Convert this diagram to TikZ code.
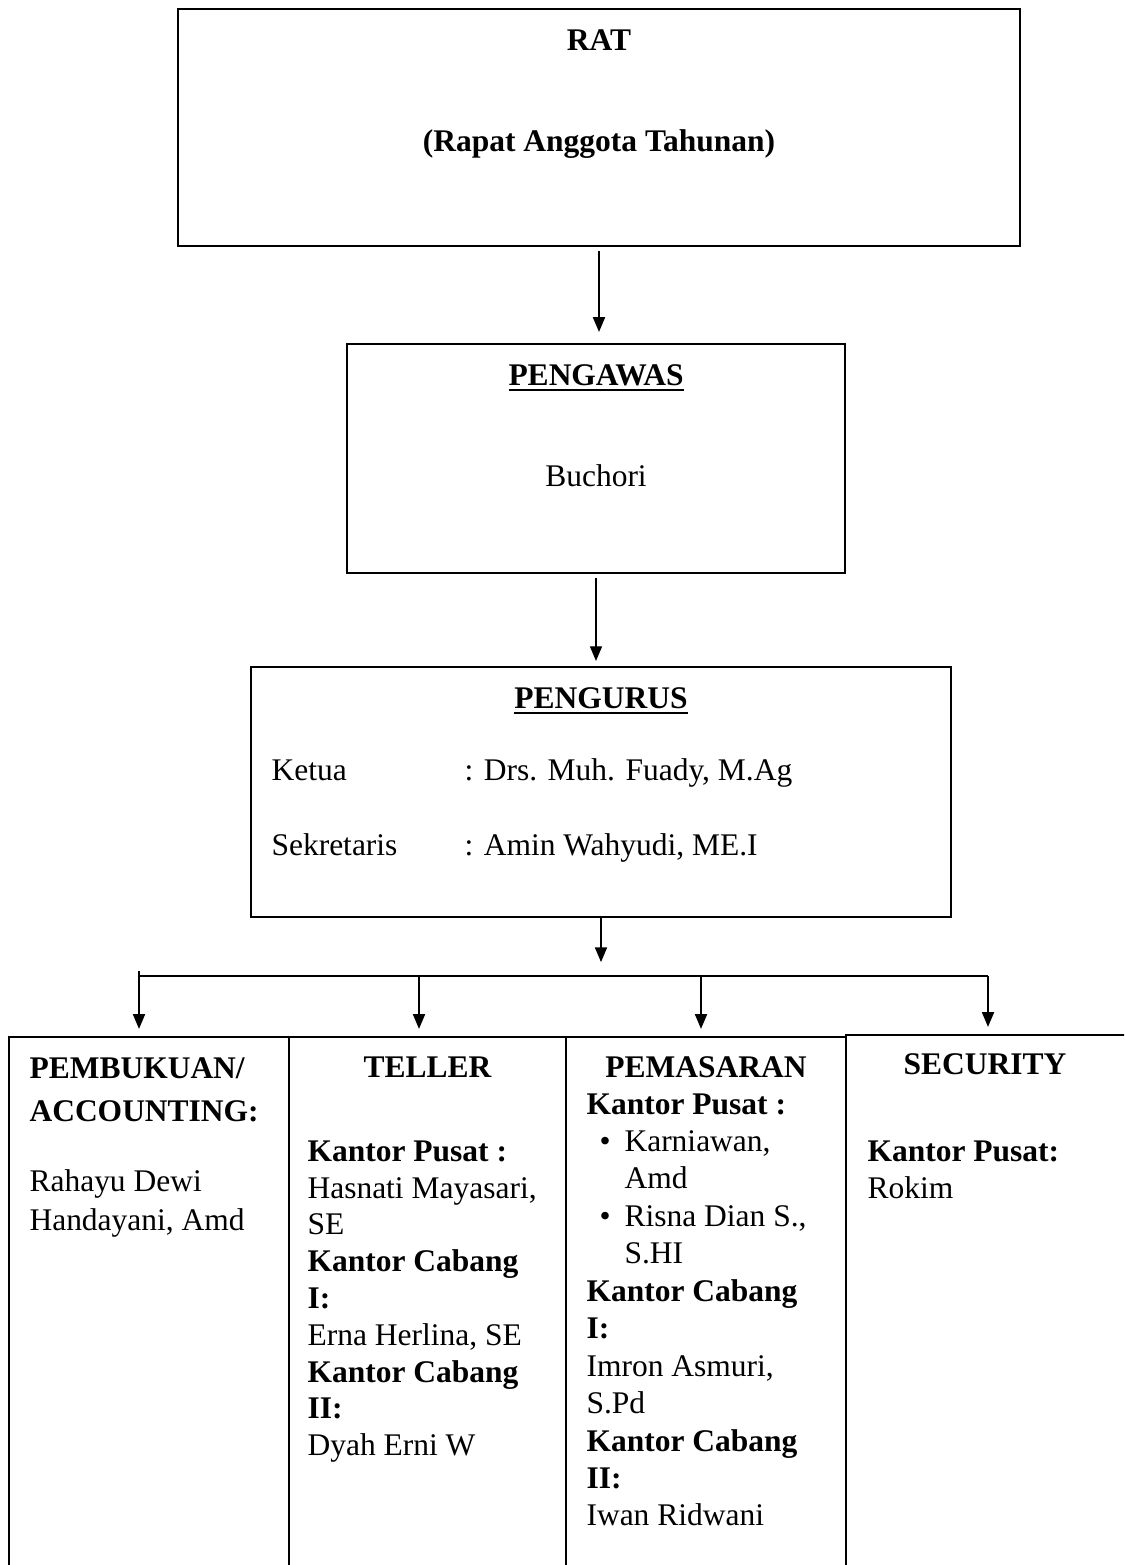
\documentclass[tikz,border=0pt]{standalone}
\usepackage{fontspec}
\setmainfont{Liberation Serif}
\usetikzlibrary{arrows.meta,fit}
\newcommand\myul[1]{\setbox0=\hbox{#1}\rlap{\rule[-2.4pt]{\wd0}{0.8pt}}\box0}
\begin{document}
\begin{tikzpicture}[x=0.381pt,y=-0.381pt,
  box/.style={draw,line width=0.8pt,inner sep=0pt,rectangle},
  arr/.style={line width=0.55pt,-{Triangle[length=5.6pt,width=4.6pt]}},
  busline/.style={line width=0.55pt},
  txt/.style={inner sep=0pt,anchor=base west,font=\fontsize{12}{13.9}\selectfont},
  ctxt/.style={txt,anchor=base},
  btxt/.style={txt,font=\fontsize{12}{13.9}\selectfont\bfseries},
  bctxt/.style={ctxt,font=\fontsize{12}{13.9}\selectfont\bfseries}]
\useasboundingbox (0,0) rectangle (1124,1565);
\clip (0,0) rectangle (1124,1565);

% top boxes
\node[box,fit={(178,9)(1020,246)}] (rat) {};
\node[bctxt] (ratT) at (599,51) {RAT};
\node[bctxt] (ratS) at (599,152) {(Rapat Anggota Tahunan)};

\node[box,fit={(347,344)(845,573)}] (pengawas) {};
\node[bctxt] (pwT) at (596,385) {\myul{PENGAWAS}};
\node[ctxt] (pwN) at (596,486) {Buchori};

\node[box,fit={(251,667)(951,917)}] (pengurus) {};
\node[bctxt] (pgT) at (601,708) {\myul{PENGURUS}};
\node[txt] (k1) at (271,780) {Ketua};
\node[txt] (k2) at (464,780) {: Drs. Muh. Fuady, M.Ag};
\node[txt] (s1) at (271,855) {Sekretaris};
\node[txt] (s2) at (464,855) {: Amin Wahyudi, ME.I};

% connectors
\draw[arr,shorten <=1.5pt,shorten >=4.2pt] (rat.south) -- (rat.south |- pengawas.north);
\draw[arr,shorten <=1.5pt,shorten >=1.9pt] (pengawas.south) -- (pengawas.south |- pengurus.north);

\coordinate (busT) at (139,971);
\coordinate (busL) at (139,976);
\coordinate (busR) at (988,976);
\coordinate (d2) at (419,976);
\coordinate (d3) at (701,976);
\draw[arr,shorten >=5.3pt] (pengurus.south) -- (pengurus.south |- busL);
\draw[busline] (busT) -- (busL) -- (busR);

% bottom boxes
\node[box,fit={(9,1037)(289,1600)}] (c1) {};
\node[box,fit={(289,1037)(566,1600)}] (c2) {};
\node[box,fit={(566,1037)(846,1600)}] (c3) {};
\node[box,fit={(846,1035)(1140,1600)}] (c4) {};

\draw[arr,shorten >=2.7pt] (busL) -- (busL |- c1.north);
\draw[arr,shorten >=2.7pt] (d2) -- (d2 |- c2.north);
\draw[arr,shorten >=2.7pt] (d3) -- (d3 |- c3.north);
\draw[arr,shorten >=2.7pt] (busR) -- (busR |- c4.north);

% column 1
\node[btxt] (a1) at (29,1078) {PEMBUKUAN/};
\node[btxt] (a2) at (29,1121) {ACCOUNTING:};
\node[txt] (a3) at (29,1191) {Rahayu Dewi};
\node[txt] (a4) at (29,1230) {Handayani, Amd};

% column 2
\node[bctxt] (b0) at (427.5,1077) {TELLER};
\node[btxt] (b1) at (307,1161) {Kantor Pusat :};
\node[txt] (b2) at (307,1198) {Hasnati Mayasari,};
\node[txt] (b3) at (307,1234) {SE};
\node[btxt] (b4) at (307,1271) {Kantor Cabang};
\node[btxt] (b5) at (307,1308) {I:};
\node[txt] (b6) at (307,1345) {Erna Herlina, SE};
\node[btxt] (b7) at (307,1382) {Kantor Cabang};
\node[btxt] (b8) at (307,1418) {II:};
\node[txt] (b9) at (307,1455) {Dyah Erni W};

% column 3
\node[bctxt] (e0) at (706,1077) {PEMASARAN};
\node[btxt] (e1) at (586,1114) {Kantor Pusat :};
\node[txt] (e2b) at (599,1151) {•};
\node[txt] (e2) at (624,1151) {Karniawan,};
\node[txt] (e3) at (624,1188) {Amd};
\node[txt] (e4b) at (599,1226) {•};
\node[txt] (e4) at (624,1226) {Risna Dian S.,};
\node[txt] (e5) at (624,1263) {S.HI};
\node[btxt] (e6) at (586,1301) {Kantor Cabang};
\node[btxt] (e7) at (586,1338) {I:};
\node[txt] (e8) at (586,1376) {Imron Asmuri,};
\node[txt] (e9) at (586,1413) {S.Pd};
\node[btxt] (e10) at (586,1451) {Kantor Cabang};
\node[btxt] (e11) at (586,1488) {II:};
\node[txt] (e12) at (586,1525) {Iwan Ridwani};

% column 4
\node[bctxt] (f0) at (985,1074) {SECURITY};
\node[btxt] (f1) at (867,1161) {Kantor Pusat:};
\node[txt] (f2) at (867,1198) {Rokim};
\end{tikzpicture}
\end{document}
